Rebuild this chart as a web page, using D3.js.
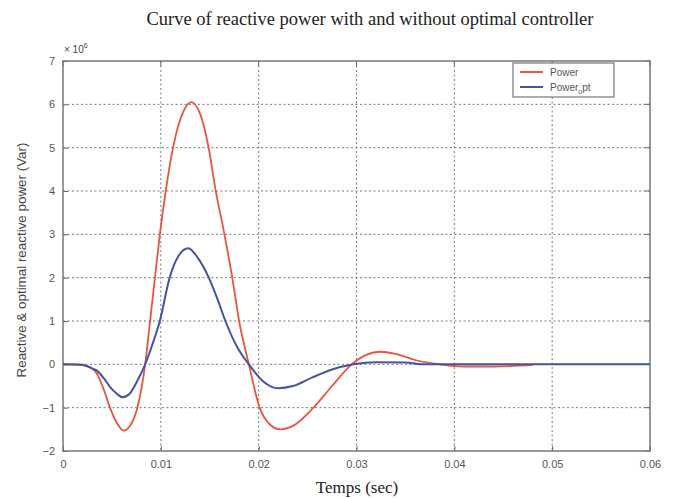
<!DOCTYPE html>
<html>
<head>
<meta charset="utf-8">
<script src="https://cdn.jsdelivr.net/npm/d3@7"></script>
<style>
  body { margin: 0; background: #fff; }
  #chart { width: 673px; height: 498px; }
  .axis text { font-family: "Liberation Sans", Arial, sans-serif; font-size: 11px; fill: #555; }
  .grid line { stroke: #777; stroke-dasharray: 2,2.5; stroke-width: 1; }
</style>
</head>
<body>
<div id="chart"></div>
<script>
// data (time in s, power in 1e6 Var)
const powerT = [0, 0.001, 0.002, 0.003, 0.00345, 0.0042, 0.0048, 0.0055, 0.0062, 0.0069, 0.0076, 0.0084, 0.0089, 0.0094, 0.0099, 0.0105, 0.0113, 0.0123, 0.0131, 0.014, 0.0149, 0.0156, 0.0165, 0.0173, 0.018, 0.019, 0.0201, 0.0212, 0.0222, 0.0235, 0.0256, 0.0275, 0.0295, 0.031, 0.0324, 0.034, 0.036, 0.0385, 0.041, 0.044, 0.048];
const powerV = [0, 0, -0.02, -0.1, -0.21, -0.6, -1.0, -1.35, -1.53, -1.4, -1.0, 0, 1.0, 2.0, 3.0, 4.0, 5.06, 5.83, 6.05, 5.79, 4.98, 4.02, 3.0, 2.0, 1.0, 0, -1.0, -1.4, -1.5, -1.42, -1.0, -0.5, 0, 0.22, 0.29, 0.24, 0.1, 0, -0.05, -0.05, -0.02];

const optT = [0, 0.002, 0.003, 0.0035, 0.0042, 0.0048, 0.0055, 0.0061, 0.0068, 0.0076, 0.0084, 0.0092, 0.0099, 0.0109, 0.0118, 0.0128, 0.0138, 0.0149, 0.0158, 0.0166, 0.0178, 0.019, 0.0205, 0.022, 0.0235, 0.0255, 0.0275, 0.0297, 0.032, 0.035, 0.037, 0.045, 0.06];
const optV = [0, -0.01, -0.1, -0.15, -0.33, -0.52, -0.68, -0.76, -0.68, -0.38, 0, 0.5, 1.0, 2.0, 2.5, 2.68, 2.45, 2.0, 1.5, 1.0, 0.4, 0, -0.4, -0.55, -0.5, -0.3, -0.12, 0, 0.05, 0.04, 0, 0, 0];

const xTicks = [0, 0.01, 0.02, 0.03, 0.04, 0.05, 0.06];
const yTicks = [-2, -1, 0, 1, 2, 3, 4, 5, 6, 7];
const seriesNames = ["Power", "Power_opt"];
const seriesColors = ["#e8563e", "#4453a8"];

const margin = {top: 61, right: 23, bottom: 47, left: 63};
const width = 673 - margin.left - margin.right;
const height = 498 - margin.top - margin.bottom;

const svg = d3.select("#chart").append("svg")
    .attr("width", 673)
    .attr("height", 498);

const g = svg.append("g")
    .attr("transform", `translate(${margin.left},${margin.top})`);

const x = d3.scaleLinear().domain([0, 0.06]).range([0, width]);
const y = d3.scaleLinear().domain([-2, 7]).range([height, 0]);

// grid
g.append("g").attr("class", "grid")
    .selectAll("line").data(xTicks.slice(1, -1)).join("line")
    .attr("x1", d => x(d)).attr("x2", d => x(d))
    .attr("y1", 0).attr("y2", height);
g.append("g").attr("class", "grid")
    .selectAll("line").data(yTicks.slice(1, -1)).join("line")
    .attr("y1", d => y(d)).attr("y2", d => y(d))
    .attr("x1", 0).attr("x2", width);

// axes
const xAxis = g.append("g").attr("class", "axis")
    .attr("transform", `translate(0,${height})`)
    .call(d3.axisBottom(x).tickValues(xTicks).tickSize(-5).tickPadding(9)
        .tickFormat(d => d === 0 ? "0" : d3.format(".2f")(d)));
const yAxis = g.append("g").attr("class", "axis")
    .call(d3.axisLeft(y).tickValues(yTicks).tickSize(-5).tickPadding(8).tickFormat(d3.format("d")));
[xAxis, yAxis].forEach(a => {
    a.select(".domain").remove();
    a.selectAll(".tick line").attr("stroke", "#666");
});
// ticks on top and right
g.append("g").selectAll("line").data(xTicks).join("line")
    .attr("x1", d => x(d)).attr("x2", d => x(d)).attr("y1", 0).attr("y2", 5).attr("stroke", "#666");
g.append("g").selectAll("line").data(yTicks).join("line")
    .attr("y1", d => y(d)).attr("y2", d => y(d)).attr("x1", width).attr("x2", width - 5).attr("stroke", "#666");

// frame
g.append("rect")
    .attr("width", width).attr("height", height)
    .attr("fill", "none").attr("stroke", "#777").attr("stroke-width", 1.5);

// lines
const line = d3.line()
    .x(d => x(d[0]))
    .y(d => y(d[1]))
    .curve(d3.curveMonotoneX);

g.append("path")
    .datum(d3.zip(powerT, powerV))
    .attr("fill", "none")
    .attr("stroke", seriesColors[0])
    .attr("stroke-width", 1.8)
    .attr("d", line);

g.append("path")
    .datum(d3.zip(optT, optV))
    .attr("fill", "none")
    .attr("stroke", seriesColors[1])
    .attr("stroke-width", 2)
    .attr("d", line);

// exponent
const expo = svg.append("text")
    .attr("x", 64).attr("y", 53)
    .style("font-family", "Liberation Sans, Arial, sans-serif")
    .style("font-size", "10px").style("fill", "#444");
expo.append("tspan").text("× 10");
expo.append("tspan").attr("dy", -5).style("font-size", "7px").text("6");

// title
svg.append("text")
    .attr("x", 370).attr("y", 25)
    .attr("text-anchor", "middle")
    .style("font-family", "Liberation Serif, Times New Roman, serif")
    .style("font-size", "18.5px").style("fill", "#222")
    .text("Curve of reactive power with and without optimal controller");

// x label
svg.append("text")
    .attr("x", 357).attr("y", 493)
    .attr("text-anchor", "middle")
    .style("font-family", "Liberation Serif, Times New Roman, serif")
    .style("font-size", "17px").style("fill", "#222")
    .text("Temps (sec)");

// y label
svg.append("text")
    .attr("transform", `translate(26,${margin.top + height / 2 + 4}) rotate(-90)`)
    .attr("text-anchor", "middle")
    .style("font-family", "Liberation Sans, Arial, sans-serif")
    .style("font-size", "13.4px").style("fill", "#444")
    .text("Reactive & optimal reactive power (Var)");

// legend
const leg = svg.append("g").attr("transform", "translate(513,63)");
leg.append("rect")
    .attr("width", 101).attr("height", 34)
    .attr("fill", "#fff").attr("stroke", "#777").attr("stroke-width", 1.2);
seriesNames.forEach((name, i) => {
    const yy = 9 + i * 15;
    leg.append("line")
        .attr("x1", 7).attr("x2", 30).attr("y1", yy).attr("y2", yy)
        .attr("stroke", seriesColors[i]).attr("stroke-width", 2);
    const t = leg.append("text")
        .attr("x", 37).attr("y", yy + 3.5)
        .style("font-family", "Liberation Sans, Arial, sans-serif")
        .style("font-size", "10px").style("fill", "#555");
    if (name === "Power_opt") {
        t.append("tspan").text("Power");
        t.append("tspan").attr("dy", 3).style("font-size", "7px").text("o");
        t.append("tspan").attr("dy", -3).text("pt");
    } else {
        t.text(name);
    }
});
</script>
</body>
</html>
